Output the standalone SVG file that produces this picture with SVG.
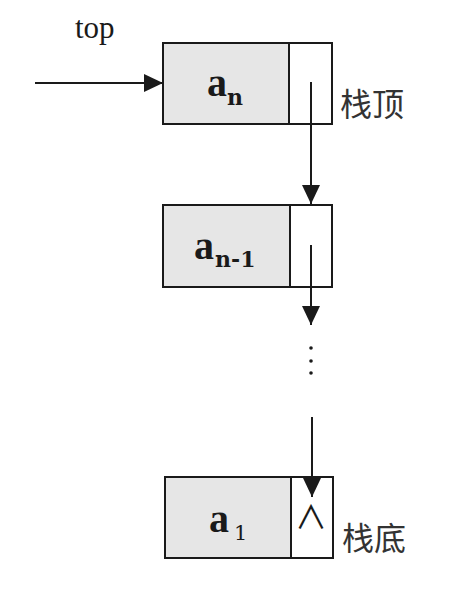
<svg xmlns="http://www.w3.org/2000/svg" width="465" height="594" viewBox="0 0 465 594">
  <style>
    .cell { fill: #e6e6e6; stroke: #1a1a1a; stroke-width: 2; }
    .ptr { fill: #ffffff; stroke: #1a1a1a; stroke-width: 2; }
    .main { font-family: "Liberation Serif", "Times New Roman", serif; font-weight: bold; font-size: 40px; fill: #1a1a1a; }
    .sub { font-family: "DejaVu Serif", "Liberation Serif", serif; font-weight: bold; font-size: 22px; fill: #1a1a1a; }
    .cjk { font-family: "Noto Sans CJK SC", "Noto Sans", sans-serif; font-size: 32px; fill: #333333; }
    .lbl { font-family: "Liberation Serif", "Times New Roman", serif; font-size: 31px; fill: #1a1a1a; }
    .null { font-family: "Noto Sans CJK JP", "DejaVu Sans", sans-serif; font-size: 32px; fill: #1a1a1a; }
    .edge { stroke: #1a1a1a; stroke-width: 2; fill: none; }
  </style>
  <defs>
    <marker id="arrow" markerUnits="userSpaceOnUse" markerWidth="20" markerHeight="18" refX="19" refY="9" orient="auto">
      <path d="M0,0 L19,9 L0,18 z" fill="#1a1a1a"/>
    </marker>
  </defs>
  <rect width="465" height="594" fill="#ffffff"/>

  <g id="label-top">
    <text class="lbl" x="75" y="38">top</text>
  </g>

  <g id="node-an">
    <rect class="cell" x="163" y="43" width="126" height="81"/>
    <rect class="ptr" x="289" y="43" width="43" height="81"/>
    <text x="207" y="96"><tspan class="main">a</tspan><tspan class="sub" x="227" y="105">n</tspan></text>
  </g>
  <g id="label-top-cn">
    <text class="cjk" x="340" y="116">栈顶</text>
  </g>

  <g id="node-an1">
    <rect class="cell" x="163" y="205" width="127" height="82"/>
    <rect class="ptr" x="290" y="205" width="42" height="82"/>
    <text x="194" y="259"><tspan class="main">a</tspan><tspan class="sub" x="215" y="267">n-1</tspan></text>
  </g>

  <g id="ellipsis">
    <circle cx="311" cy="348" r="1.8" fill="#1a1a1a"/>
    <circle cx="311" cy="361" r="1.8" fill="#1a1a1a"/>
    <circle cx="311" cy="373" r="1.8" fill="#1a1a1a"/>
  </g>

  <g id="node-a1">
    <rect class="cell" x="165" y="477" width="126" height="81"/>
    <rect class="ptr" x="291" y="477" width="42" height="81"/>
    <text x="209" y="532"><tspan class="main">a</tspan><tspan class="sub" x="234" y="540" style="font-weight:normal;font-size:21px">1</tspan></text>
    <text class="null" x="311" y="529" text-anchor="middle">∧</text>
  </g>
  <g id="label-bottom-cn">
    <text class="cjk" x="342" y="550">栈底</text>
  </g>

  <g id="connectors">
    <line class="edge" x1="35" y1="83" x2="163" y2="83" marker-end="url(#arrow)"/>
    <line class="edge" x1="311" y1="82" x2="311" y2="204" marker-end="url(#arrow)"/>
    <line class="edge" x1="311" y1="245" x2="311" y2="325" marker-end="url(#arrow)"/>
    <line class="edge" x1="312" y1="417" x2="312" y2="497" marker-end="url(#arrow)"/>
  </g>
</svg>
